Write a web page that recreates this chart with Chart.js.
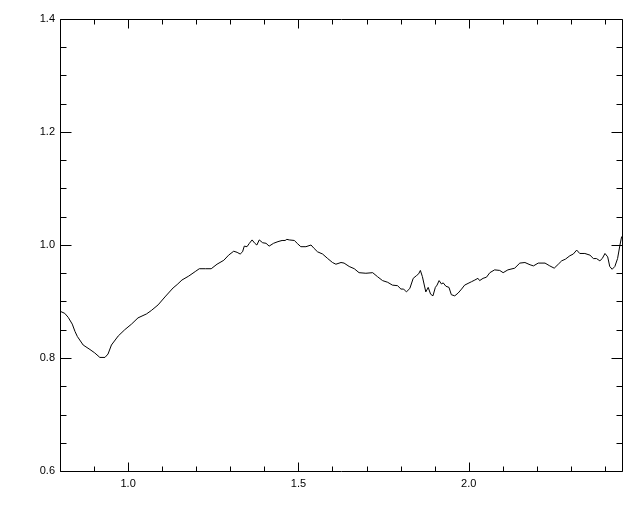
<!DOCTYPE html>
<html>
<head>
<meta charset="utf-8">
<script src="https://cdn.jsdelivr.net/npm/chart.js@4/dist/chart.umd.min.js"></script>
<style>
  html, body { margin: 0; padding: 0; background: #ffffff; }
  #c { display: block; }
</style>
</head>
<body>
<canvas id="c" width="640" height="512"></canvas>
<script>
const xValues = [0.800, 0.803, 0.814, 0.824, 0.836, 0.844, 0.851, 0.868, 0.888, 0.902,
  0.917, 0.932, 0.941, 0.951, 0.971, 0.990, 1.010, 1.029, 1.054, 1.068,
  1.088, 1.108, 1.132, 1.144, 1.158, 1.178, 1.197, 1.209, 1.227, 1.244,
  1.261, 1.281, 1.295, 1.310, 1.320, 1.329, 1.336, 1.341, 1.349, 1.356,
  1.364, 1.372, 1.378, 1.385, 1.395, 1.405, 1.414, 1.427, 1.440, 1.452,
  1.461, 1.466, 1.473, 1.488, 1.498, 1.507, 1.522, 1.537, 1.546, 1.556,
  1.571, 1.586, 1.600, 1.610, 1.625, 1.634, 1.649, 1.664, 1.678, 1.698,
  1.718, 1.732, 1.747, 1.762, 1.776, 1.791, 1.801, 1.809, 1.817, 1.827,
  1.837, 1.847, 1.853, 1.858, 1.864, 1.874, 1.881, 1.888, 1.895, 1.902,
  1.907, 1.913, 1.920, 1.925, 1.933, 1.942, 1.949, 1.959, 1.969, 1.979,
  1.988, 1.998, 2.008, 2.018, 2.027, 2.032, 2.042, 2.052, 2.062, 2.076,
  2.091, 2.101, 2.115, 2.135, 2.150, 2.165, 2.180, 2.190, 2.204, 2.224,
  2.238, 2.251, 2.263, 2.273, 2.284, 2.297, 2.307, 2.317, 2.326, 2.341,
  2.356, 2.366, 2.375, 2.385, 2.392, 2.400, 2.408, 2.414, 2.421, 2.429,
  2.437, 2.444, 2.449];
const yValues = [0.882, 0.882, 0.879, 0.872, 0.860, 0.847, 0.838, 0.823, 0.815, 0.809,
  0.801, 0.801, 0.807, 0.823, 0.839, 0.850, 0.860, 0.871, 0.878, 0.884,
  0.894, 0.908, 0.924, 0.930, 0.938, 0.945, 0.953, 0.958, 0.958, 0.958,
  0.966, 0.973, 0.982, 0.989, 0.987, 0.984, 0.988, 0.998, 0.997, 1.003,
  1.009, 1.003, 1.000, 1.009, 1.004, 1.003, 0.998, 1.003, 1.006, 1.008,
  1.008, 1.010, 1.009, 1.008, 1.002, 0.997, 0.997, 1.000, 0.994, 0.988,
  0.984, 0.976, 0.969, 0.966, 0.969, 0.968, 0.962, 0.958, 0.951, 0.950,
  0.951, 0.944, 0.937, 0.934, 0.929, 0.928, 0.922, 0.922, 0.917, 0.923,
  0.941, 0.946, 0.949, 0.955, 0.944, 0.917, 0.925, 0.913, 0.910, 0.925,
  0.929, 0.937, 0.931, 0.933, 0.927, 0.925, 0.912, 0.910, 0.915, 0.922,
  0.929, 0.932, 0.935, 0.938, 0.941, 0.937, 0.941, 0.943, 0.951, 0.956,
  0.955, 0.951, 0.956, 0.959, 0.968, 0.969, 0.965, 0.963, 0.968, 0.968,
  0.963, 0.959, 0.966, 0.972, 0.975, 0.981, 0.984, 0.991, 0.985, 0.985,
  0.982, 0.976, 0.976, 0.972, 0.976, 0.985, 0.979, 0.962, 0.957, 0.962,
  0.976, 1.000, 1.015];

const xRange = [0.8, 2.45];
const yRange = [0.6, 1.4];
const xMajorTicks = [1.0, 1.5, 2.0];
const yMajorTicks = [0.6, 0.8, 1.0, 1.2, 1.4];
const xMinorStep = 0.1;
const yMinorStep = 0.05;

const points = xValues.map((x, i) => ({ x: x, y: yValues[i] }));

const framePlugin = {
  id: 'idlFrame',
  afterDraw(chart) {
    const ctx = chart.ctx;
    const a = chart.chartArea;
    const xs = chart.scales.x, ys = chart.scales.y;
    const L = Math.round(a.left) + 0.5, R = Math.round(a.right) + 0.5;
    const T = Math.round(a.top) + 0.5, B = Math.round(a.bottom) + 0.5;
    ctx.save();
    ctx.strokeStyle = '#000000';
    ctx.lineWidth = 1;
    ctx.beginPath();
    ctx.rect(L, T, R - L, B - T);
    ctx.stroke();
    ctx.beginPath();
    // x ticks (bottom & top)
    const nx = Math.round((xRange[1] - xRange[0]) / xMinorStep);
    for (let i = 0; i <= nx; i++) {
      const v = +(xRange[0] + i * xMinorStep).toFixed(4);
      if (v > xRange[1]) break;
      const isMajor = xMajorTicks.some(m => Math.abs(m - v) < 1e-6);
      const len = isMajor ? 9 : 5;
      const px = Math.round(xs.getPixelForValue(v)) + 0.5;
      ctx.moveTo(px, B); ctx.lineTo(px, B - len);
      ctx.moveTo(px, T); ctx.lineTo(px, T + len);
    }
    // y ticks (left & right)
    const ny = Math.round((yRange[1] - yRange[0]) / yMinorStep);
    for (let i = 0; i <= ny; i++) {
      const v = +(yRange[0] + i * yMinorStep).toFixed(4);
      const isMajor = yMajorTicks.some(m => Math.abs(m - v) < 1e-6);
      const len = isMajor ? 11 : 6;
      const py = Math.round(ys.getPixelForValue(v)) + 0.5;
      ctx.moveTo(L, py); ctx.lineTo(L + len, py);
      ctx.moveTo(R, py); ctx.lineTo(R - len, py);
    }
    ctx.stroke();
    ctx.restore();
  }
};

new Chart(document.getElementById('c'), {
  type: 'line',
  data: {
    datasets: [{
      data: points,
      borderColor: '#000000',
      borderWidth: 1,
      pointRadius: 0,
      tension: 0,
      fill: false
    }]
  },
  options: {
    responsive: false,
    animation: false,
    events: [],
    layout: { padding: { top: 19, right: 18, left: 0, bottom: 0 } },
    plugins: { legend: { display: false }, tooltip: { enabled: false } },
    scales: {
      x: {
        type: 'linear',
        min: xRange[0],
        max: xRange[1],
        grid: { display: false, drawTicks: false },
        border: { display: false },
        afterBuildTicks(scale) { scale.ticks = xMajorTicks.map(v => ({ value: v })); },
        afterFit(scale) { scale.height = 41; },
        ticks: {
          padding: 6,
          color: '#000000',
          font: { family: 'Liberation Sans', size: 11 },
          maxRotation: 0,
          autoSkip: false,
          callback: v => Number(v).toFixed(1)
        }
      },
      y: {
        type: 'linear',
        min: yRange[0],
        max: yRange[1],
        grid: { display: false, drawTicks: false },
        border: { display: false },
        afterBuildTicks(scale) { scale.ticks = yMajorTicks.map(v => ({ value: v })); },
        afterFit(scale) { scale.width = 60; },
        ticks: {
          padding: 5,
          color: '#000000',
          font: { family: 'Liberation Sans', size: 11 },
          autoSkip: false,
          callback: v => Number(v).toFixed(1)
        }
      }
    }
  },
  plugins: [framePlugin]
});
</script>
</body>
</html>
